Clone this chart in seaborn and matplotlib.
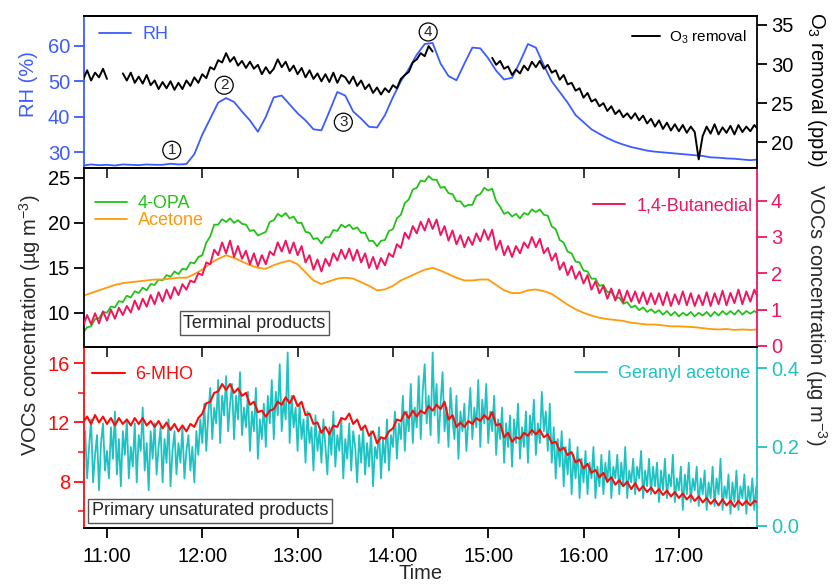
import numpy as np
import pandas as pd
import matplotlib
matplotlib.use("Agg")
import matplotlib.pyplot as plt
import seaborn as sns

# ---------------- data ----------------
# time in decimal hours starting at 10:45 (5-min, 2.5-min and 1.25-min grids)
T0 = 10.75
hour_ticks = [11, 12, 13, 14, 15, 16, 17]
hour_labels = ["11:00", "12:00", "13:00", "14:00", "15:00", "16:00", "17:00"]

rh = [26.3, 26.6, 26.4, 26.5, 26.3, 26.6, 26.5, 26.4, 26.6, 26.5, 26.5, 26.8,
      26.6, 26.7, 29.5, 35.0, 39.5, 44.0, 45.3, 44.2, 41.5, 39.0, 35.8, 40.0,
      45.5, 46.0, 43.5, 41.0, 39.0, 36.5, 36.2, 41.5, 47.0, 46.0, 41.5, 39.5,
      37.2, 37.0, 40.5, 45.5, 50.0, 53.5, 57.5, 60.5, 60.8, 55.0, 51.5, 50.3,
      55.0, 59.5, 59.3, 56.5, 53.0, 50.5, 51.0, 55.5, 60.5, 59.5, 54.5, 50.0,
      47.0, 44.0, 40.5, 38.5, 36.5, 35.2, 34.0, 33.0, 32.2, 31.5, 31.0, 30.5,
      30.2, 30.0, 29.8, 29.6, 29.4, 29.2, 29.0, 28.6, 28.5, 28.3, 28.2, 28.0,
      27.8, 28.0]

acetone = [11.9, 12.2, 12.5, 12.8, 13.1, 13.3, 13.4, 13.5, 13.6, 13.7, 13.7, 13.8,
           13.9, 13.9, 14.3, 14.8, 15.5, 16.0, 16.4, 16.1, 15.7, 15.3, 15.0, 14.9,
           15.3, 15.6, 15.8, 15.4, 14.5, 13.6, 13.2, 13.5, 13.8, 13.9, 13.8, 13.4,
           13.0, 12.5, 12.6, 13.0, 13.6, 14.0, 14.4, 14.8, 15.0, 14.7, 14.3, 13.9,
           13.6, 13.6, 13.7, 13.7, 13.1, 12.5, 12.2, 12.2, 12.5, 12.6, 12.4, 12.1,
           11.5, 10.9, 10.4, 10.0, 9.7, 9.45, 9.3, 9.2, 9.1, 8.9, 8.8, 8.7,
           8.7, 8.6, 8.5, 8.5, 8.45, 8.4, 8.3, 8.2, 8.15, 8.2, 8.1, 8.15,
           8.1, 8.15]

nan = np.nan
o3 = [28.0, 29.2, 27.9, 28.9, 28.3, 29.4, 28.1, nan, nan, nan, 28.8, 27.9,
      28.9, 27.6, 28.4, 27.5, 28.6, 27.3, 27.9, 26.8, 27.7, 26.9, 27.8, 26.7,
      27.6, 26.8, 27.9, 27.2, 28.3, 27.6, 28.7, 28.2, 29.6, 29.3, 30.5, 30.2,
      31.4, 30.3, 30.9, 29.8, 30.4, 29.5, 30.3, 29.4, 29.9, 28.7, 29.6, 28.8,
      29.4, 30.6, 29.6, 30.3, 29.1, 29.8, 28.7, 29.5, 28.3, 29.2, 28.1, 28.8,
      27.8, 28.7, 27.7, 28.9, 27.6, 28.6, 28.3, 27.5, 28.4, 27.2, 27.9, 26.8,
      27.4, 26.3, 27.0, 26.1, 26.9, 26.4, 27.3, 26.9, 28.1, 28.6, 29.0, 30.2,
      30.6, 31.4, 31.0, 32.3, 31.6, nan, nan, nan, nan, nan, nan, nan,
      nan, nan, nan, nan, nan, nan, nan, 30.8, 29.9, 30.4, 29.4, 29.7,
      28.6, 29.3, 28.8, 29.8, 29.2, 30.3, 29.6, 30.4, 29.4, 29.9, 28.9, 29.2,
      28.0, 28.6, 27.4, 27.6, 26.6, 26.9, 25.7, 26.3, 25.2, 25.5, 24.6, 25.0,
      24.0, 24.6, 23.6, 24.1, 23.2, 23.7, 23.0, 23.7, 22.8, 23.4, 22.4, 23.0,
      22.0, 22.8, 21.7, 22.5, 21.5, 22.3, 21.4, 22.2, 21.2, 22.0, 21.3, 17.8,
      20.8, 22.0, 21.1, 22.3, 21.0, 21.9, 21.2, 22.1, 21.0, 22.2, 21.3, 22.0,
      21.4, 22.2, 21.6]

opa = [7.8, 8.4, 8.5, 9.3, 9.4, 10.1, 10.0, 10.7, 10.6, 11.3, 11.2, 11.9,
       11.7, 12.4, 12.2, 12.8, 12.5, 13.2, 13.1, 13.7, 13.6, 14.2, 14.0, 14.6,
       14.3, 14.9, 14.8, 15.6, 15.5, 16.2, 16.4, 17.8, 18.5, 19.8, 19.8, 20.4,
       20.1, 20.5, 20.0, 20.3, 19.9, 19.8, 19.1, 19.2, 18.6, 18.8, 19.0, 20.1,
       20.3, 21.0, 20.7, 21.1, 20.5, 20.7, 20.0, 20.0, 19.0, 18.9, 18.2, 18.3,
       17.7, 18.4, 18.4, 19.2, 19.1, 19.8, 19.5, 19.8, 19.3, 19.5, 18.9, 18.9,
       18.0, 18.0, 17.4, 18.0, 18.1, 19.1, 19.3, 20.5, 20.9, 22.2, 22.6, 23.7,
       23.9, 24.7, 24.6, 25.2, 24.8, 24.8, 23.9, 24.0, 23.3, 23.2, 22.4, 22.4,
       21.8, 22.0, 22.0, 23.0, 23.2, 23.9, 23.6, 23.8, 22.4, 21.8, 21.0, 21.2,
       20.7, 21.0, 20.5, 21.1, 20.9, 21.5, 21.2, 21.5, 20.9, 20.8, 19.6, 19.3,
       18.1, 17.8, 16.8, 16.6, 15.7, 15.6, 14.7, 14.6, 13.8, 13.8, 13.0, 13.1,
       12.3, 12.3, 11.6, 11.7, 11.0, 11.2, 10.6, 10.8, 10.3, 10.6, 10.1, 10.4,
       10.0, 10.3, 9.8, 10.2, 9.7, 10.1, 9.6, 10.0, 9.7, 10.1, 9.6, 10.0,
       9.7, 10.1, 9.6, 10.1, 9.7, 10.2, 9.8, 10.2, 9.8, 10.3, 9.8, 10.2,
       9.9, 10.2, 9.9]

butanedial = [0.55, 0.85, 0.60, 0.90, 0.62, 0.95, 0.70, 1.00, 0.75, 1.05, 0.85, 1.10,
              0.92, 1.25, 1.00, 1.30, 1.08, 1.40, 1.15, 1.48, 1.22, 1.55, 1.30, 1.62,
              1.40, 1.70, 1.55, 1.80, 1.75, 2.00, 1.95, 2.30, 2.25, 2.65, 2.50, 2.85,
              2.55, 2.90, 2.45, 2.75, 2.40, 2.62, 2.25, 2.55, 2.20, 2.50, 2.25, 2.60,
              2.50, 2.85, 2.60, 2.90, 2.55, 2.85, 2.50, 2.75, 2.30, 2.50, 2.10, 2.38,
              2.05, 2.40, 2.20, 2.55, 2.35, 2.65, 2.40, 2.68, 2.35, 2.65, 2.30, 2.55,
              2.15, 2.45, 2.12, 2.42, 2.22, 2.55, 2.45, 2.80, 2.70, 3.12, 2.95, 3.30,
              3.10, 3.42, 3.18, 3.50, 3.22, 3.48, 3.05, 3.30, 2.90, 3.18, 2.80, 3.05,
              2.72, 3.00, 2.78, 3.10, 2.88, 3.20, 2.92, 3.20, 2.65, 2.90, 2.50, 2.75,
              2.45, 2.75, 2.55, 2.85, 2.70, 3.00, 2.72, 2.95, 2.55, 2.70, 2.35, 2.55,
              2.10, 2.30, 1.95, 2.20, 1.85, 2.05, 1.72, 1.95, 1.55, 1.78, 1.45, 1.65,
              1.30, 1.58, 1.25, 1.55, 1.20, 1.52, 1.22, 1.50, 1.18, 1.48, 1.15, 1.45,
              1.15, 1.45, 1.12, 1.48, 1.10, 1.42, 1.15, 1.50, 1.12, 1.45, 1.10, 1.40,
              1.12, 1.48, 1.10, 1.45, 1.15, 1.52, 1.12, 1.46, 1.18, 1.55, 1.15, 1.50,
              1.22, 1.55, 1.30]

mho = [12.0, 12.4, 11.9, 12.5, 12.0, 12.4, 11.9, 12.3, 11.8, 12.3, 11.9, 12.2,
       11.8, 12.3, 11.9, 12.3, 11.8, 12.1, 11.7, 12.1, 11.6, 12.0, 11.5, 11.9,
       11.4, 11.8, 11.4, 11.9, 11.7, 12.3, 12.6, 13.3, 13.4, 14.0, 14.1, 14.6,
       14.2, 14.6, 14.0, 14.3, 13.8, 14.0, 13.2, 13.4, 12.7, 12.8, 12.4, 12.8,
       12.9, 13.4, 13.2, 13.7, 13.3, 13.8, 13.1, 13.4, 12.5, 12.6, 11.9, 12.0,
       11.3, 11.7, 11.2, 11.8, 11.7, 12.3, 12.2, 12.6, 11.9, 12.2, 11.5, 11.8,
       11.1, 11.4, 10.6, 11.0, 10.9, 11.4, 11.6, 12.2, 12.1, 12.7, 12.3, 12.8,
       12.4, 12.8, 12.6, 13.1, 12.8, 13.2, 12.9, 13.4, 12.2, 12.5, 11.7, 12.0,
       11.7, 12.1, 11.9, 12.3, 12.1, 12.5, 12.2, 12.7, 11.8, 11.9, 11.0, 11.3,
       10.7, 11.0, 10.9, 11.3, 11.1, 11.5, 11.2, 11.5, 11.0, 11.2, 10.6, 10.7,
       10.1, 10.3, 9.8, 10.0, 9.3, 9.5, 8.9, 9.2, 8.6, 8.8, 8.3, 8.6,
       8.0, 8.3, 7.8, 8.1, 7.7, 8.0, 7.5, 7.9, 7.4, 7.7, 7.3, 7.6,
       7.2, 7.5, 7.1, 7.4, 7.0, 7.3, 6.9, 7.2, 6.8, 7.1, 6.7, 7.0,
       6.6, 6.9, 6.5, 6.8, 6.4, 6.8, 6.4, 6.7, 6.3, 6.7, 6.4, 6.7,
       6.4, 6.7, 6.6]

# geranyl acetone on a 1.25-min grid (24 values per half hour)
geranyl = [
    0.15, 0.24, 0.12, 0.20, 0.27, 0.11, 0.18, 0.23, 0.09, 0.21, 0.26, 0.14,
    0.19, 0.12, 0.25, 0.17, 0.29, 0.13, 0.22, 0.10, 0.24, 0.18, 0.27, 0.12,
    0.20, 0.15, 0.26, 0.11, 0.23, 0.19, 0.30, 0.14, 0.21, 0.09, 0.24, 0.17,
    0.26, 0.13, 0.20, 0.25, 0.11, 0.22, 0.16, 0.27, 0.10, 0.19, 0.24, 0.13,
    0.21, 0.16, 0.25, 0.12, 0.19, 0.23, 0.14, 0.20, 0.11, 0.24, 0.18, 0.27,
    0.21, 0.31, 0.19, 0.28, 0.35, 0.22, 0.30, 0.26, 0.37, 0.21, 0.33, 0.28,
    0.38, 0.24, 0.31, 0.36, 0.22, 0.33, 0.27, 0.39, 0.23, 0.30, 0.25, 0.34,
    0.19, 0.29, 0.24, 0.35, 0.17, 0.27, 0.22, 0.31, 0.20, 0.33, 0.26, 0.37,
    0.22, 0.34, 0.28, 0.41, 0.24, 0.32, 0.27, 0.44, 0.21, 0.33, 0.25, 0.30,
    0.19, 0.31, 0.22, 0.27, 0.16, 0.29, 0.21, 0.25, 0.14, 0.28, 0.19, 0.24,
    0.16, 0.27, 0.20, 0.13, 0.25, 0.18, 0.29, 0.15, 0.23, 0.19, 0.27, 0.12,
    0.22, 0.17, 0.26, 0.14, 0.24, 0.20, 0.11, 0.23, 0.16, 0.25, 0.13, 0.21,
    0.15, 0.24, 0.10, 0.20, 0.17, 0.25, 0.12, 0.22, 0.16, 0.27, 0.14, 0.23,
    0.20, 0.29, 0.17, 0.26, 0.22, 0.33, 0.19, 0.29, 0.24, 0.36, 0.21, 0.30,
    0.25, 0.38, 0.22, 0.34, 0.41, 0.26, 0.33, 0.23, 0.44, 0.28, 0.36, 0.21,
    0.31, 0.39, 0.24, 0.30, 0.20, 0.35, 0.27, 0.22, 0.33, 0.17, 0.29, 0.24,
    0.31, 0.19, 0.27, 0.35, 0.22, 0.30, 0.25, 0.37, 0.20, 0.32, 0.26, 0.36,
    0.21, 0.29, 0.24, 0.33, 0.18, 0.27, 0.22, 0.30, 0.16, 0.26, 0.20, 0.28,
    0.15, 0.27, 0.21, 0.31, 0.17, 0.25, 0.20, 0.29, 0.16, 0.28, 0.23, 0.32,
    0.18, 0.26, 0.21, 0.34, 0.24, 0.29, 0.19, 0.31, 0.16, 0.25, 0.12, 0.22,
    0.15, 0.24, 0.10, 0.20, 0.13, 0.22, 0.08, 0.18, 0.12, 0.20, 0.07, 0.17,
    0.11, 0.19, 0.08, 0.16, 0.12, 0.20, 0.07, 0.15, 0.10, 0.18, 0.08, 0.16,
    0.11, 0.19, 0.07, 0.15, 0.12, 0.18, 0.08, 0.16, 0.10, 0.20, 0.07, 0.14,
    0.11, 0.17, 0.08, 0.15, 0.12, 0.19, 0.07, 0.14, 0.10, 0.17, 0.08, 0.15,
    0.10, 0.16, 0.06, 0.14, 0.09, 0.17, 0.07, 0.13, 0.10, 0.18, 0.06, 0.12,
    0.09, 0.15, 0.04, 0.13, 0.08, 0.16, 0.06, 0.12, 0.09, 0.15, 0.05, 0.12,
    0.08, 0.14, 0.04, 0.11, 0.07, 0.15, 0.05, 0.12, 0.08, 0.17, 0.04, 0.10,
    0.07, 0.13, 0.03, 0.11, 0.06, 0.14, 0.04, 0.10, 0.07, 0.13, 0.03, 0.10,
    0.06, 0.12, 0.04, 0.10, 0.07]

t5 = T0 + np.arange(len(rh)) / 12.0
t25 = T0 + np.arange(len(o3)) / 24.0
t125 = T0 + np.arange(len(geranyl)) / 48.0

# ---------------- style ----------------
sns.set_theme(style="ticks")
plt.rcParams["font.family"] = ["Liberation Sans", "DejaVu Sans"]
plt.rcParams["mathtext.fontset"] = "custom"
plt.rcParams["mathtext.rm"] = "Liberation Sans"
plt.rcParams["mathtext.it"] = "Liberation Sans:italic"
plt.rcParams["mathtext.default"] = "regular"

C_RH = "#3D5CFF"
C_OPA = "#22C218"
C_ACE = "#FF9A0A"
C_BUT = "#F2145C"
C_MHO = "#FF0A0A"
C_GER = "#1FC2C2"
FS = 14.5
LFS = 13
LW = 1.3

W, H = 835, 586
fig = plt.figure(figsize=(W / 100, H / 100), dpi=100)


def pos(top, bot, left=84, right=757):
    return [left / W, 1 - bot / H, (right - left) / W, (bot - top) / H]


ax_t = fig.add_axes(pos(16, 168))
ax_m = fig.add_axes(pos(168, 347))
ax_b = fig.add_axes(pos(347, 528))
ax_t2 = ax_t.twinx()
ax_m2 = ax_m.twinx()
ax_b2 = ax_b.twinx()

XL = (10.759, 17.82)


def draw(ax, x, y, color, label, lw=LW):
    df = pd.DataFrame({"t": x, "v": np.asarray(y, dtype=float)})
    df["seg"] = df["v"].isna().cumsum()
    df = df.dropna()
    for k, (_, part) in enumerate(df.groupby("seg")):
        sns.lineplot(data=part, x="t", y="v", estimator=None, ax=ax,
                     color=color, lw=lw, label=label if k == 0 else None,
                     legend=False, sort=False)


# top panel
draw(ax_t, t5, rh, C_RH, "RH")
draw(ax_t2, t25, o3, "black", "O$_3$ removal", lw=1.4)
# middle panel
draw(ax_m, t25, opa, C_OPA, "4-OPA")
draw(ax_m, t5, acetone, C_ACE, "Acetone")
draw(ax_m2, t25, butanedial, C_BUT, "1,4-Butanedial", lw=1.4)
# bottom panel
draw(ax_b2, t125, geranyl, C_GER, "Geranyl acetone", lw=1.3)
draw(ax_b, t25, mho, C_MHO, "6-MHO", lw=1.5)
ax_b.set_zorder(ax_b2.get_zorder() + 1)
ax_b.patch.set_visible(False)

# limits
for a in (ax_t, ax_m, ax_b):
    a.set_xlim(*XL)
ax_t.set_ylim(25.6, 68.4)
ax_t2.set_ylim(16.7, 36.15)
ax_m.set_ylim(6.2, 26.1)
ax_m2.set_ylim(-0.03, 4.9)
ax_b.set_ylim(4.87, 17.1)
ax_b2.set_ylim(-0.006, 0.454)

ax_t.set_yticks([30, 40, 50, 60])
ax_t2.set_yticks([20, 25, 30, 35])
ax_m.set_yticks([10, 15, 20, 25])
ax_m2.set_yticks([0, 1, 2, 3, 4])
ax_b.set_yticks([8, 12, 16])
ax_b.set_yticks([6, 10, 14], minor=True)
ax_b2.set_yticks([0.0, 0.2, 0.4])
ax_b2.set_yticklabels(["0.0", "0.2", "0.4"])

for a in (ax_t, ax_t2, ax_m, ax_m2, ax_b, ax_b2):
    a.set_xlabel("")
    a.set_ylabel("")
    for s in a.spines.values():
        s.set_linewidth(1.3)
        s.set_color("black")


def style_y(ax, color, side):
    other = "right" if side == "left" else "left"
    ax.spines[side].set_color(color)
    ax.spines[other].set_visible(False)
    ax.tick_params(axis="y", which="major", colors=color, labelcolor=color,
                   direction="out", length=7, width=1.3, labelsize=FS, pad=3)
    ax.tick_params(axis="y", which="minor", colors=color, direction="out",
                   length=4, width=1.1)


style_y(ax_t, C_RH, "left")
style_y(ax_t2, "black", "right")
style_y(ax_m, "black", "left")
style_y(ax_m2, C_BUT, "right")
style_y(ax_b, C_MHO, "left")
style_y(ax_b2, C_GER, "right")

for a in (ax_t, ax_t2, ax_m, ax_m2, ax_b2):
    a.tick_params(axis="x", bottom=False, top=False, labelbottom=False)
ax_m.set_xticks(hour_ticks)
ax_m.tick_params(axis="x", top=True, bottom=False, direction="in", length=7,
                 width=1.3, labelbottom=False)
ax_t.spines["bottom"].set_visible(False)
ax_m.spines["bottom"].set_visible(False)

ax_b.set_xticks(hour_ticks)
ax_b.set_xticklabels(hour_labels)
ax_b.tick_params(axis="x", bottom=True, direction="out", length=7, width=1.3,
                 labelsize=FS, colors="black", labelcolor="black", pad=7)
sec = ax_b.secondary_xaxis("top")
sec.set_xticks(hour_ticks)
sec.tick_params(axis="x", direction="in", length=7, width=1.3, labeltop=False)
sec.spines["top"].set_linewidth(1.3)
ax_b.set_xlabel("Time", fontsize=FS, labelpad=-2)

# axis labels
ax_t.set_ylabel("RH (%)", color=C_RH, fontsize=FS)
ax_t.yaxis.set_label_coords(-0.068, 0.55)
ax_t2.set_ylabel("O$_3$ removal (ppb)", color="black", fontsize=FS, rotation=270,
                 va="center")
ax_t2.yaxis.set_label_coords(1.088, 0.52)
fig.text(30 / W, 1 - 325 / H, "VOCs concentration (µg m$^{-3}$)", rotation=90,
         ha="center", va="center", fontsize=FS)
fig.text(816 / W, 1 - 315 / H, "VOCs concentration (µg m$^{-3}$)", rotation=270,
         ha="center", va="center", fontsize=FS)

# legends
leg_kw = dict(frameon=False, fontsize=LFS, handlelength=1.8, handletextpad=0.6,
              borderpad=0, borderaxespad=0, labelspacing=0.0,
              labelcolor="linecolor")
ax_t.legend(loc="upper left", bbox_to_anchor=(0.022, 0.935), **leg_kw)
kw2 = dict(leg_kw)
kw2["fontsize"] = 11
ax_t2.legend(loc="upper right", bbox_to_anchor=(0.985, 0.92), **kw2)
ax_m.legend(loc="upper left", bbox_to_anchor=(0.016, 0.85), **leg_kw)
ax_m2.legend(loc="upper right", bbox_to_anchor=(0.993, 0.835), **leg_kw)
ax_b.legend(loc="upper left", bbox_to_anchor=(0.012, 0.895), **leg_kw)
ax_b2.legend(loc="upper right", bbox_to_anchor=(0.99, 0.9), **leg_kw)

# annotations
box = dict(boxstyle="square,pad=0.2", fc="white", ec="#555555", lw=1.0)
ax_m.text(0.253, 0.134, "Terminal products", transform=ax_m.transAxes,
          ha="center", va="center", fontsize=LFS, bbox=box, zorder=10)
ax_b.text(0.187, 0.094, "Primary unsaturated products", transform=ax_b.transAxes,
          ha="center", va="center", fontsize=LFS, bbox=box, zorder=10)

circ = dict(boxstyle="circle,pad=0.13", fc="none", ec="black", lw=0.9)
marks = [("1", 11.68, 30.6), ("2", 12.23, 48.9), ("3", 13.48, 38.5), ("4", 14.37, 63.9)]
for txt, tx, ty in marks:
    ax_t.text(tx, ty, txt, ha="center", va="center", fontsize=11, bbox=circ,
              zorder=10)

fig.savefig("out.png", dpi=100)
